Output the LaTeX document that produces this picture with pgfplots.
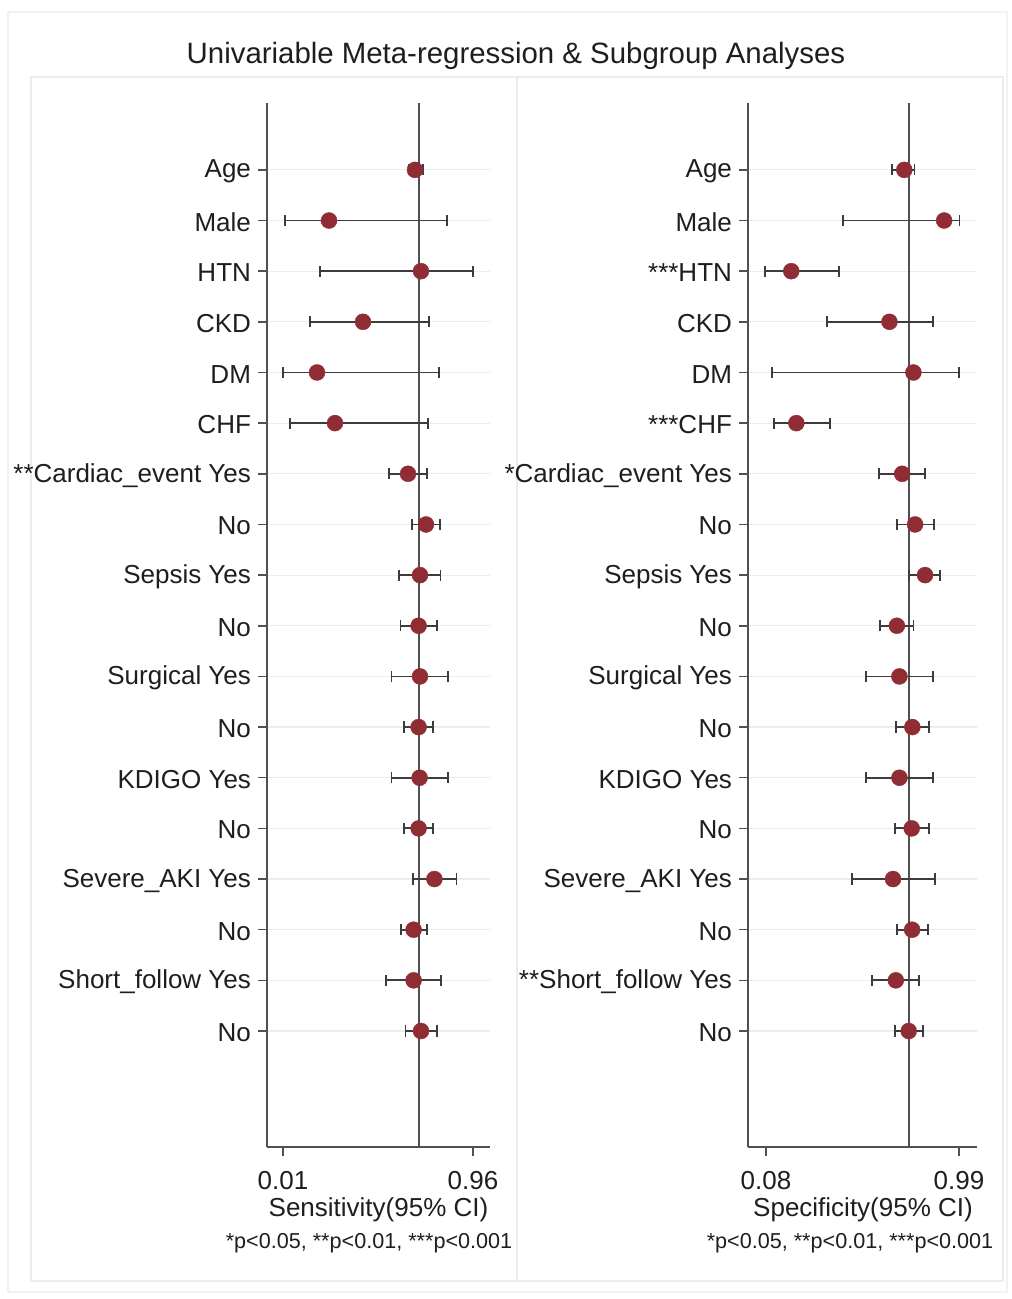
\documentclass[border=0pt]{standalone}
\usepackage{fontspec}
\setmainfont{Liberation Sans}
\usepackage{pgfplots}
\usepackage{pgfplotstable}
\pgfplotsset{compat=1.18}

\definecolor{cranberry}{RGB}{144,45,52}
\definecolor{axisgray}{RGB}{80,80,80}
\definecolor{barcol}{RGB}{60,60,60}
\definecolor{gridcol}{RGB}{231,238,241}
\definecolor{framecol}{RGB}{232,238,240}
\definecolor{textcol}{RGB}{30,30,30}

% pos: row position (18 = top row), est, lower and upper 95% CI
\pgfplotstableread{
pos est   lo    hi
18  0.670 0.640 0.710
17  0.240 0.018 0.830
16  0.700 0.196 0.960
15  0.410 0.143 0.740
14  0.180 0.010 0.790
13  0.270 0.045 0.735
12  0.635 0.540 0.730
11  0.725 0.653 0.795
10  0.695 0.590 0.797
9   0.688 0.597 0.780
8   0.695 0.552 0.835
7   0.688 0.615 0.760
6   0.693 0.552 0.835
5   0.688 0.615 0.760
4   0.767 0.658 0.877
3   0.663 0.600 0.728
2   0.663 0.523 0.800
1   0.700 0.622 0.780
}\sensdata

\pgfplotstableread{
pos est   lo    hi
18  0.732 0.674 0.780
17  0.920 0.443 0.992
16  0.199 0.077 0.423
15  0.662 0.366 0.869
14  0.775 0.108 0.989
13  0.223 0.116 0.383
12  0.722 0.614 0.829
11  0.783 0.697 0.871
10  0.830 0.756 0.902
9   0.697 0.619 0.775
8   0.709 0.552 0.866
7   0.770 0.692 0.850
6   0.709 0.552 0.866
5   0.767 0.690 0.847
4   0.679 0.484 0.876
3   0.769 0.697 0.844
2   0.692 0.581 0.802
1   0.753 0.688 0.822
}\specdata

\pgfplotsset{
  forest/.style={
    scale only axis,
    anchor=south west,
    height=522pt,
    ymin=-1.29, ymax=19.32,
    axis lines*=left,
    axis line style={-, line width=0.75pt, color=axisgray},
    every outer x axis line/.append style={-},
    every outer y axis line/.append style={-},
    tick align=outside,
    major tick length=4.5pt,
    tick style={line width=0.75pt, color=axisgray},
    ytick={1,...,18},
    ymajorgrids,
    major grid style={line width=0.6pt, color=gridcol},
    /pgf/number format/assume math mode=true,
    ticklabel style={font=\fontsize{13}{15}\selectfont, text=textcol},
    yticklabel style={xshift=0pt, yshift=-0.8pt},
    xticklabel style={yshift=-4pt},
    clip=false,
  },
  cibars/.style={
    only marks, mark=none, forget plot,
    error bars/.cd,
      x dir=both, x explicit,
      error bar style={line width=0.9pt, color=barcol, solid},
      error mark options={rotate=90, line width=0.9pt, color=barcol, mark size=2.8pt},
  },
  dots/.style={
    only marks, mark=*, mark size=4pt,
    mark options={fill=cranberry, draw=cranberry, line width=0.2pt},
  },
}

\begin{document}
\begin{tikzpicture}
\path[fill=white, use as bounding box] (0pt,0pt) rectangle (505.5pt,-649.5pt);
% frames
\draw[color=framecol!70, line width=0.6pt] (4pt,-6pt) rectangle (503.5pt,-646pt);
\draw[color=framecol, line width=0.6pt] (15.5pt,-38.5pt) rectangle (258.5pt,-640.5pt);
\draw[color=framecol, line width=0.6pt] (258.5pt,-38.5pt) rectangle (501.5pt,-640.5pt);

\node[text=textcol, font=\fontsize{14.7}{17}\selectfont] at (258pt,-28pt)
  {Univariable Meta-regression \& Subgroup Analyses};

% Sensitivity panel
\begin{axis}[forest,
  at={(133.5pt,-573.5pt)},
  width=111.5pt,
  xmin=-0.07, xmax=1.045,
  xtick={0.01,0.96}, xticklabels={0.01,0.96},
  yticklabels={No, Short\_follow Yes, No, Severe\_AKI Yes, No, KDIGO Yes, No,
    Surgical Yes, No, Sepsis Yes, No, **Cardiac\_event Yes, CHF, DM, CKD, HTN, Male, Age},
]
\addplot[line width=0.75pt, color=axisgray, forget plot] coordinates {(0.69,-1.29) (0.69,19.32)};
\addplot[cibars] table[x=est, y=pos,
  x error plus expr=\thisrow{hi}-\thisrow{est},
  x error minus expr=\thisrow{est}-\thisrow{lo}] {\sensdata};
\addplot[dots] table[x=est, y=pos] {\sensdata};
\end{axis}

% Specificity panel
\begin{axis}[forest,
  at={(374pt,-573.5pt)},
  width=114.5pt,
  xmin=-0.005, xmax=1.075,
  xtick={0.08,0.99}, xticklabels={0.08,0.99},
  yticklabels={No, **Short\_follow Yes, No, Severe\_AKI Yes, No, KDIGO Yes, No,
    Surgical Yes, No, Sepsis Yes, No, *Cardiac\_event Yes, ***CHF, DM, CKD, ***HTN, Male, Age},
]
\addplot[line width=0.75pt, color=axisgray, forget plot] coordinates {(0.755,-1.29) (0.755,19.32)};
\addplot[cibars] table[x=est, y=pos,
  x error plus expr=\thisrow{hi}-\thisrow{est},
  x error minus expr=\thisrow{est}-\thisrow{lo}] {\specdata};
\addplot[dots] table[x=est, y=pos] {\specdata};
\end{axis}

% axis titles and significance notes
\node[text=textcol, font=\fontsize{13}{15}\selectfont] at (189.25pt,-605pt) {Sensitivity(95\% CI)};
\node[text=textcol, font=\fontsize{10.8}{13}\selectfont] at (184.5pt,-621.5pt) {*p<0.05, **p<0.01, ***p<0.001};
\node[text=textcol, font=\fontsize{13}{15}\selectfont] at (431.5pt,-605pt) {Specificity(95\% CI)};
\node[text=textcol, font=\fontsize{10.8}{13}\selectfont] at (425pt,-621.5pt) {*p<0.05, **p<0.01, ***p<0.001};
\end{tikzpicture}
\end{document}
